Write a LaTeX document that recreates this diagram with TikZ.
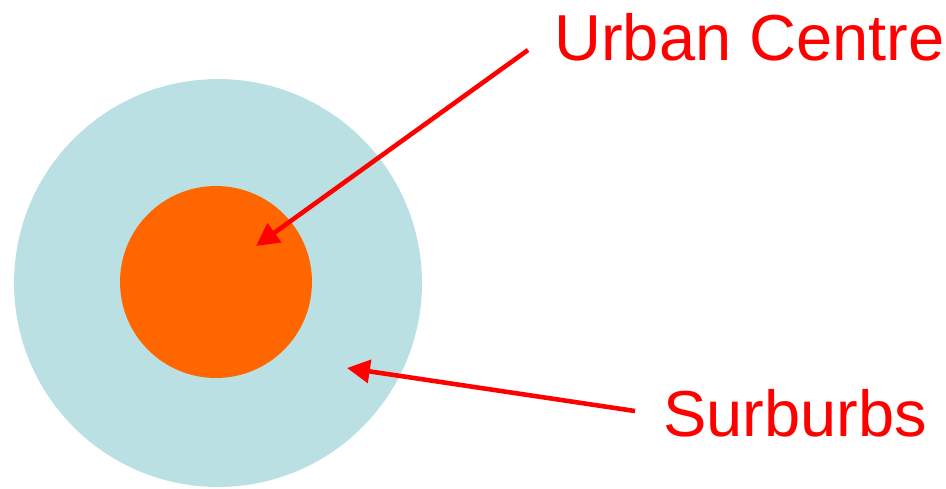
\documentclass[tikz,border=0pt]{standalone}
\usepackage{fontspec}
\setmainfont{Liberation Sans}
\usetikzlibrary{positioning,arrows.meta}
\definecolor{cSub}{RGB}{187,224,227}
\definecolor{cCtr}{RGB}{255,102,0}
\definecolor{cLbl}{RGB}{255,0,0}

\begin{document}
\begin{tikzpicture}[x=0.02cm,y=-0.02cm,
  zone/.style={circle,draw=none,inner sep=0},
  lbl/.style={text=cLbl,font=\fontsize{37}{40}\selectfont,inner sep=0,anchor=base west},
  ptr/.style={cLbl,line width=2.6pt,-{Triangle[length=13pt,width=13pt]},shorten >=0pt}]

  \useasboundingbox (0,0) rectangle (946,488);

  % ---- zones ----
  \node[zone,fill=cSub,minimum size=8.16cm] (sub) at (218,283) {};
  \node[zone,fill=cCtr,minimum size=3.84cm] (ctr) at (216,282) {};

  % ---- labels ----
  \node[lbl] (lctr) at (554,60) {Urban Centre};
  \node[lbl] (lsub) at (663,436) {Surburbs};

  \coordinate (tctr) at (256,246);
  \coordinate (tsub) at (347,368);
  \coordinate (sctr) at (528,50);
  \coordinate (ssub) at (635,411);

  \draw[ptr] (sctr) -- (tctr);
  \draw[ptr] (ssub) -- (tsub);

\end{tikzpicture}
\end{document}
